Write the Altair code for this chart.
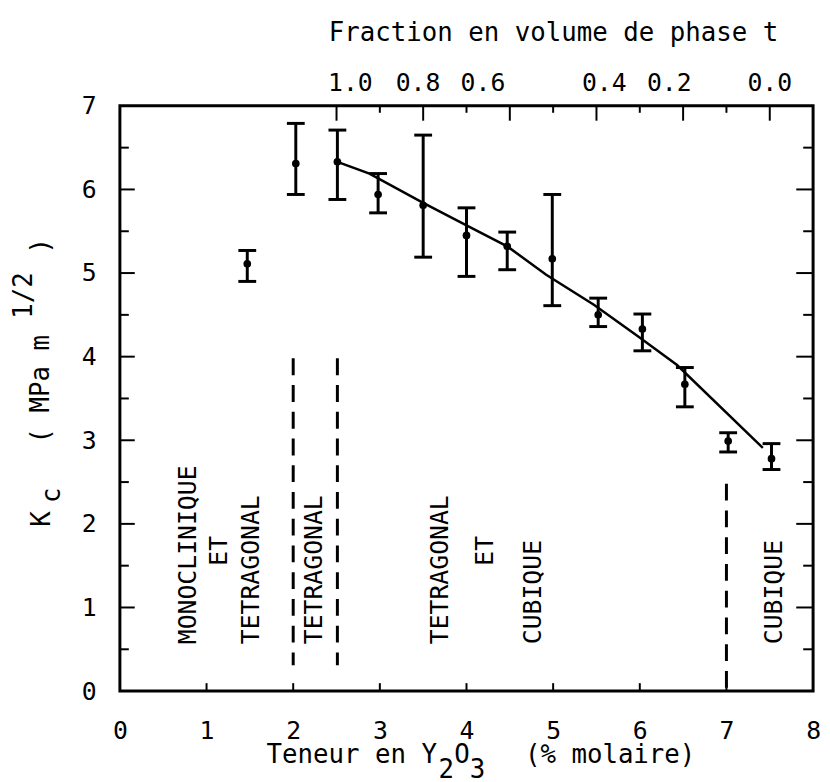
import altair as alt
import pandas as pd

FONT = "DejaVu Sans Mono"

# ---- data ----
y2o3 = [1.47, 2.03, 2.51, 2.98, 3.50, 4.00, 4.47, 4.99, 5.52, 6.03, 6.52, 7.02, 7.52]
kc = [5.11, 6.31, 6.33, 5.94, 5.81, 5.45, 5.32, 5.17, 4.50, 4.33, 3.67, 2.99, 2.78]
kc_hi = [5.27, 6.79, 6.71, 6.19, 6.65, 5.78, 5.49, 5.94, 4.70, 4.51, 3.87, 3.09, 2.96]
kc_lo = [4.90, 5.94, 5.88, 5.72, 5.19, 4.96, 5.04, 4.61, 4.36, 4.07, 3.40, 2.86, 2.65]

curve_x = [2.51, 2.88, 3.50, 4.00, 4.47, 4.92, 5.47, 5.97, 6.43, 7.42]
curve_y = [6.33, 6.19, 5.84, 5.57, 5.32, 4.98, 4.62, 4.25, 3.90, 2.91]

bound_x = [2.0, 2.51, 7.0]
bound_top = [3.98, 3.98, 2.48]
bound_bot = [0.31, 0.31, 0.0]

region_text = ["MONOCLINIQUE", "ET", "TETRAGONAL", "TETRAGONAL",
               "TETRAGONAL", "ET", "CUBIQUE", "CUBIQUE"]
region_x = [0.79, 1.15, 1.51, 2.24, 3.70, 4.22, 4.77, 7.55]
region_y = [0.56, 1.50, 0.56, 0.56, 0.56, 1.50, 0.56, 0.56]

x_labels = [0, 1, 2, 3, 4, 5, 6, 7, 8]
y_labels = [0, 1, 2, 3, 4, 5, 6, 7]
x_ticks = [1, 2, 3, 4, 5, 6, 7]
y_major = [1, 2, 3, 4, 5, 6]
y_minor = [0.5, 1.5, 2.5, 3.5, 4.5, 5.5, 6.5]
top_major = [2.5, 3.5, 4.5, 5.5, 6.5, 7.5]
top_minor = [3, 4, 5, 6, 7]
frac_labels = [1.0, 0.8, 0.6, 0.4, 0.2, 0.0]
frac_label_at = [2.66, 3.44, 4.19, 5.59, 6.34, 7.50]  # Y2O3 content where each label is typed

W, H = 700, 591
FS = 25
TFS = 26
P = 15.8  # monospace pitch of the title font

xs = alt.Scale(domain=[0, 8], nice=False, zero=False)
ys = alt.Scale(domain=[0, 7], nice=False, zero=False)

x_axis = alt.Axis(values=x_labels, ticks=False, tickSize=0, domain=False, grid=False,
                  labelFont=FONT, labelFontSize=FS, labelPadding=28, labelColor="black",
                  labelFlush=False, labelOverlap=False, labelBound=False, title=None, format="d")
y_axis = alt.Axis(values=y_labels, ticks=False, tickSize=0, domain=False, grid=False,
                  labelFont=FONT, labelFontSize=FS, labelPadding=24, labelColor="black",
                  labelFlush=False, labelOverlap=False, labelBound=False, title=None, format="d")


def X(field):
    return alt.X(field, scale=xs, axis=x_axis)


def Y(field):
    return alt.Y(field, scale=ys, axis=y_axis)


pts = pd.DataFrame({"x": y2o3, "kc": kc, "hi": kc_hi, "lo": kc_lo})
curve = pd.DataFrame({"x": curve_x, "y": curve_y})
bounds = pd.DataFrame({"x": bound_x, "top": bound_top, "bot": bound_bot})
regions = pd.DataFrame({"x": region_x, "y": region_y, "s": region_text})

bars = alt.Chart(pts).mark_rule(color="black", strokeWidth=3).encode(
    x=X("x:Q"), y=Y("hi:Q"), y2="lo:Q")
cap_hi = alt.Chart(pts).mark_rule(color="black", strokeWidth=3, xOffset=-9, x2Offset=9).encode(
    x=X("x:Q"), x2="x:Q", y=Y("hi:Q"))
cap_lo = alt.Chart(pts).mark_rule(color="black", strokeWidth=3, xOffset=-9, x2Offset=9).encode(
    x=X("x:Q"), x2="x:Q", y=Y("lo:Q"))
dots = alt.Chart(pts).mark_circle(color="black", size=60, opacity=1).encode(
    x=X("x:Q"), y=Y("kc:Q"))
line = alt.Chart(curve).mark_line(color="black", strokeWidth=2.5).encode(
    x=X("x:Q"), y=Y("y:Q"), order="x:Q")
dashed = alt.Chart(bounds).mark_rule(color="black", strokeWidth=3, strokeDash=[17, 10]).encode(
    x=X("x:Q"), y=Y("top:Q"), y2="bot:Q")
reg = alt.Chart(regions).mark_text(angle=270, align="left", baseline="middle",
                                   font=FONT, fontSize=FS, color="black").encode(
    x=X("x:Q"), y=Y("y:Q"), text="s:N")

# inward ticks
t_bottom = alt.Chart(pd.DataFrame({"v": x_ticks})).mark_rule(color="black", strokeWidth=2).encode(
    x=X("v:Q"), y=alt.value(H), y2=alt.value(H - 8))
t_left_major = alt.Chart(pd.DataFrame({"v": y_major})).mark_rule(color="black", strokeWidth=2).encode(
    y=Y("v:Q"), x=alt.value(0), x2=alt.value(15))
t_left_minor = alt.Chart(pd.DataFrame({"v": y_minor})).mark_rule(color="black", strokeWidth=2).encode(
    y=Y("v:Q"), x=alt.value(0), x2=alt.value(9))
t_right_major = alt.Chart(pd.DataFrame({"v": y_major})).mark_rule(color="black", strokeWidth=2).encode(
    y=Y("v:Q"), x=alt.value(W), x2=alt.value(W - 17))
t_right_minor = alt.Chart(pd.DataFrame({"v": y_minor})).mark_rule(color="black", strokeWidth=2).encode(
    y=Y("v:Q"), x=alt.value(W), x2=alt.value(W - 10))
t_top_major = alt.Chart(pd.DataFrame({"v": top_major})).mark_rule(color="black", strokeWidth=2).encode(
    x=X("v:Q"), y=alt.value(0), y2=alt.value(15))
t_top_minor = alt.Chart(pd.DataFrame({"v": top_minor})).mark_rule(color="black", strokeWidth=2).encode(
    x=X("v:Q"), y=alt.value(0), y2=alt.value(7))

# top fraction-of-t-phase labels (typed above the frame)
top_lab = alt.Chart(pd.DataFrame({"t": frac_labels, "x": frac_label_at})).mark_text(
    font=FONT, fontSize=FS, baseline="middle", color="black").encode(
    x=X("x:Q"), y=alt.value(-23), text=alt.Text("t:Q", format=".1f"))


def label(s, x, y, angle=0, size=TFS):
    kw = dict(font=FONT, fontSize=size, align="left", baseline="middle", color="black")
    if angle:
        kw["angle"] = angle
    return alt.Chart(pd.DataFrame({"s": [s]})).mark_text(**kw).encode(
        text="s:N", x=alt.value(x), y=alt.value(y))


XT = 148
YT = 656
YS = 671
titles = [
    label("Fraction en volume de phase t", 211, -73),
    label("Teneur en Y", XT, YT),
    label("2", XT + 11 * P, YS),
    label("O", XT + 12 * P, YT),
    label("3", XT + 13 * P, YS),
    label("(% molaire)", 409, YT),
    label("K", -79, 425, 270),
    label("c", -68, 401, 270),
    label("( MPa m", -80, 341, 270),
    label("1/2", -97, 215, 270),
    label(")", -80, 149, 270),
]

chart = alt.layer(
    bars, cap_hi, cap_lo, line, dots, dashed, reg,
    t_bottom, t_left_major, t_left_minor, t_right_major, t_right_minor,
    t_top_major, t_top_minor, top_lab, *titles
).properties(
    width=W, height=H,
    autosize=alt.AutoSizeParams(type="none"),
    padding={"left": 113, "top": 95, "right": 9, "bottom": 88},
    background="white",
).configure_view(stroke="black", strokeWidth=3)

chart.save("out.html", embed_options={"renderer": "svg", "actions": False})
